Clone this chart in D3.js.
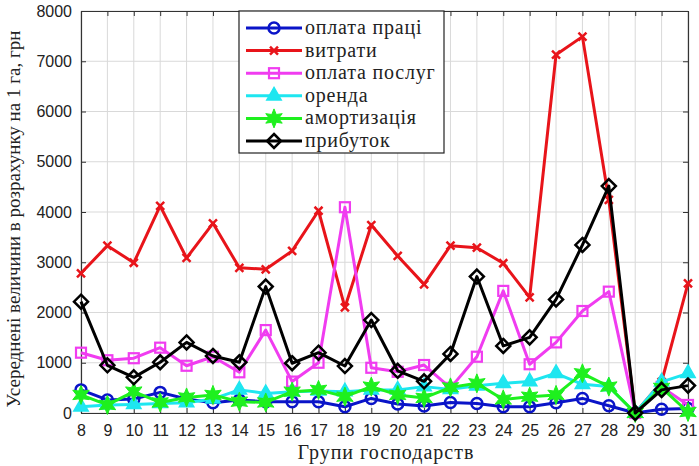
<!DOCTYPE html>
<html>
<head>
<meta charset="utf-8">
<script src="https://cdn.jsdelivr.net/npm/d3@7"></script>
<style>
  body { margin: 0; background: #fff; }
  .tick text { font-family: "Liberation Sans", Arial, sans-serif; font-size: 16px; fill: #222; }
  .grid line { stroke: #d9d9d9; stroke-width: 1; }
</style>
</head>
<body>
<div id="container"></div>
<script>
/* CONSTANTS AND GLOBALS */
const width = 699;
const height = 466;
const margin = { top: 11, bottom: 53, left: 81, right: 10 };

/* DATA */
const groups = d3.range(8, 32); // 8..31
const yTicks = [0, 1000, 2000, 3000, 4000, 5000, 6000, 7000, 8000];

const oplataPraci = [460, 260, 280, 410, 280, 205, 260, 225, 225, 225, 125, 290, 180, 140, 210, 190, 125, 125, 205, 290, 145, 0, 75, 90];
const vytraty = [2780, 3330, 2990, 4120, 3085, 3775, 2890, 2860, 3225, 4025, 2100, 3740, 3125, 2560, 3330, 3290, 2980, 2300, 7130, 7490, 4240, 0, 620, 2580];
const oplataPoslug = [1200, 1050, 1090, 1300, 940, 1120, 810, 1650, 625, 1000, 4095, 900, 820, 955, 500, 1120, 2430, 970, 1405, 2030, 2415, 0, 520, 160];
const orenda = [125, 160, 170, 190, 205, 280, 460, 390, 425, 440, 425, 460, 460, 525, 470, 540, 590, 625, 790, 570, 525, 0, 620, 790];
const amortyzacia = [360, 160, 425, 210, 310, 360, 225, 210, 425, 460, 325, 525, 360, 300, 510, 590, 270, 325, 360, 790, 525, 0, 500, 20];
const prybutok = [2215, 950, 710, 1010, 1405, 1135, 1010, 2515, 990, 1200, 935, 1850, 840, 630, 1175, 2715, 1335, 1505, 2260, 3345, 4515, 0, 460, 545];

const seriesNames = ["оплата праці", "витрати", "оплата послуг", "оренда", "амортизація", "прибуток"];
const seriesValues = [oplataPraci, vytraty, oplataPoslug, orenda, amortyzacia, prybutok];
const seriesColors = ["#0a14c8", "#e8141a", "#f03cf0", "#1ee6f0", "#1ef01e", "#000000"];
const seriesMarkers = ["circle", "x", "square", "triangle", "star", "diamond"];

/* SCALES */
const xScale = d3.scaleLinear()
  .domain([8, 31])
  .range([margin.left, width - margin.right - 1]);

const yScale = d3.scaleLinear()
  .domain([0, 8000])
  .range([height - margin.bottom, margin.top]);

const svg = d3.select("#container")
  .append("svg")
  .attr("width", width)
  .attr("height", height);

// grid
svg.append("g")
  .attr("class", "grid")
  .selectAll("line.v")
  .data(groups)
  .join("line")
  .attr("x1", d => xScale(d)).attr("x2", d => xScale(d))
  .attr("y1", yScale(0)).attr("y2", yScale(8000));

svg.append("g")
  .attr("class", "grid")
  .selectAll("line.h")
  .data(yTicks)
  .join("line")
  .attr("x1", xScale(8)).attr("x2", xScale(31))
  .attr("y1", d => yScale(d)).attr("y2", d => yScale(d));

// axes
svg.append("g")
  .attr("transform", `translate(0,${yScale(0)})`)
  .call(d3.axisBottom(xScale).tickValues(groups).tickFormat(d3.format("d")).tickSizeInner(-5).tickSizeOuter(0).tickPadding(12));
svg.append("g")
  .attr("transform", `translate(${xScale(8)},0)`)
  .call(d3.axisLeft(yScale).tickValues(yTicks).tickFormat(d3.format("d")).tickSizeInner(-5).tickSizeOuter(0).tickPadding(9));
svg.append("g")
  .attr("transform", `translate(0,${yScale(8000)})`)
  .call(d3.axisTop(xScale).tickValues(groups).tickFormat("").tickSizeInner(-5).tickSizeOuter(0));
svg.append("g")
  .attr("transform", `translate(${xScale(31)},0)`)
  .call(d3.axisRight(yScale).tickValues(yTicks).tickFormat("").tickSizeInner(-5).tickSizeOuter(0));

svg.selectAll(".domain").attr("stroke", "#333").attr("stroke-width", 1.2);
svg.selectAll(".tick line").attr("stroke", "#333");

// axis labels
svg.append("text")
  .attr("x", 386)
  .attr("y", 459)
  .attr("text-anchor", "middle")
  .attr("font-family", "'Liberation Serif', 'Times New Roman', serif")
  .attr("font-size", 20)
  .attr("letter-spacing", 1)
  .attr("fill", "#222")
  .text("Групи господарств");

svg.append("text")
  .attr("transform", `translate(20,219) rotate(-90)`)
  .attr("text-anchor", "middle")
  .attr("font-family", "'Liberation Serif', 'Times New Roman', serif")
  .attr("font-size", 19)
  .attr("fill", "#222")
  .text("Усереднені величини в розрахунку на 1 га, грн");

/* MARKERS */
function drawMarker(g, type, color) {
  if (type === "circle") {
    g.append("circle").attr("r", 5.5).attr("fill", "none").attr("stroke", color).attr("stroke-width", 2.5);
  } else if (type === "x") {
    g.append("path").attr("d", "M-4,-4L4,4M-4,4L4,-4").attr("stroke", color).attr("stroke-width", 2.5);
  } else if (type === "square") {
    g.append("rect").attr("x", -5).attr("y", -5).attr("width", 10).attr("height", 10)
      .attr("fill", "none").attr("stroke", color).attr("stroke-width", 2.2);
  } else if (type === "triangle") {
    g.append("path").attr("d", d3.symbol(d3.symbolTriangle, 90)()).attr("fill", color).attr("stroke", color).attr("stroke-width", 1.5);
  } else if (type === "star") {
    // six-pointed star
    const pts = d3.range(12).map(i => {
      const a = i * Math.PI / 6 - Math.PI / 2;
      const r = i % 2 === 0 ? 9.5 : 4.5;
      return [r * Math.cos(a), r * Math.sin(a)];
    });
    g.append("path").attr("d", d3.line()(pts) + "Z").attr("fill", color).attr("stroke", color).attr("stroke-width", 1);
  } else if (type === "diamond") {
    g.append("path").attr("d", "M0,-7L7,0L0,7L-7,0Z").attr("fill", "none").attr("stroke", color).attr("stroke-width", 2.5);
  }
}

/* LINES */
const line = d3.line()
  .x((d, i) => xScale(groups[i]))
  .y(d => yScale(d));

seriesValues.forEach((vals, k) => {
  const g = svg.append("g");
  g.append("path")
    .datum(vals)
    .attr("d", line)
    .attr("fill", "none")
    .attr("stroke", seriesColors[k])
    .attr("stroke-width", 3)
    .attr("stroke-linejoin", "round");
  g.selectAll("g.m")
    .data(vals)
    .join("g")
    .attr("transform", (d, i) => `translate(${xScale(groups[i])},${yScale(d)})`)
    .each(function() { drawMarker(d3.select(this), seriesMarkers[k], seriesColors[k]); });
});

/* LEGEND */
const legend = svg.append("g").attr("transform", "translate(239,11)");
legend.append("rect")
  .attr("width", 205).attr("height", 142)
  .attr("fill", "#fff").attr("stroke", "#222").attr("stroke-width", 1.2);

seriesNames.forEach((name, k) => {
  const yy = 17 + k * 22.6;
  legend.append("line")
    .attr("x1", 7).attr("x2", 63).attr("y1", yy).attr("y2", yy)
    .attr("stroke", seriesColors[k]).attr("stroke-width", 3);
  const mg = legend.append("g").attr("transform", `translate(35,${yy})`);
  drawMarker(mg, seriesMarkers[k], seriesColors[k]);
  legend.append("text")
    .attr("x", 66).attr("y", yy + 6)
    .attr("font-family", "'Liberation Serif', 'Times New Roman', serif")
    .attr("font-size", 20)
    .attr("letter-spacing", 0.8)
    .attr("fill", "#222")
    .text(name);
});
</script>
</body>
</html>
